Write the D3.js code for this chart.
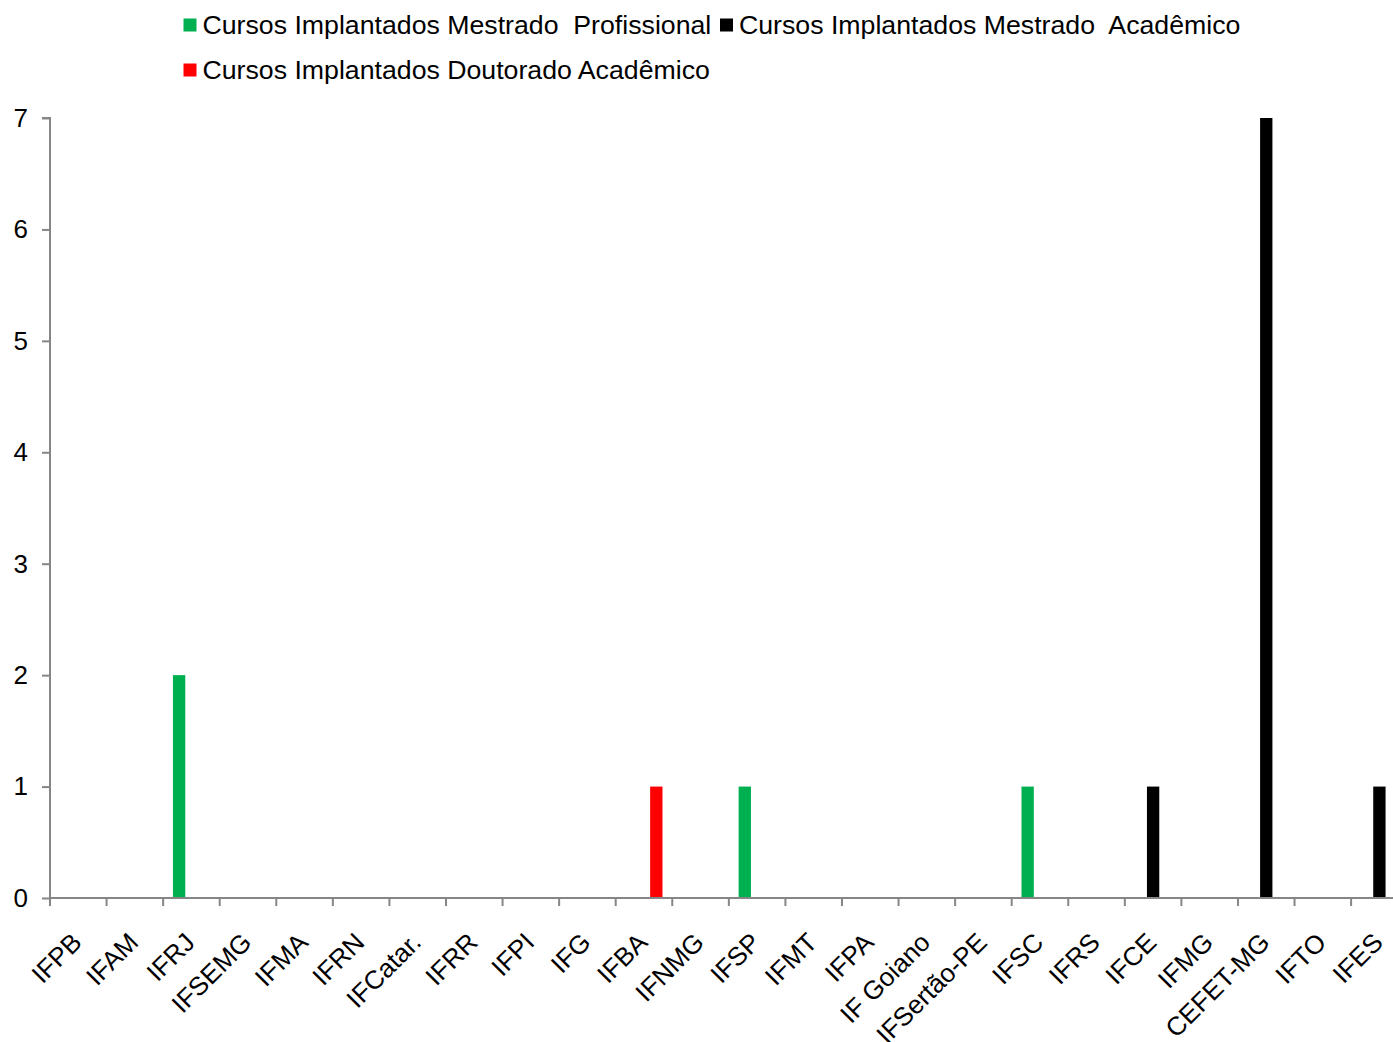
<!DOCTYPE html>
<html>
<head>
<meta charset="utf-8">
<script src="https://cdn.jsdelivr.net/npm/d3@7"></script>
<style>
  html, body { margin: 0; padding: 0; background: #fff; }
  svg { display: block; }
  text { font-family: "Liberation Sans", Arial, sans-serif; fill: #000; }
</style>
</head>
<body>
<svg id="chart" width="1393" height="1042"></svg>
<script>
const categories = ["IFPB", "IFAM", "IFRJ", "IFSEMG", "IFMA", "IFRN", "IFCatar.", "IFRR", "IFPI", "IFG",
  "IFBA", "IFNMG", "IFSP", "IFMT", "IFPA", "IF Goiano", "IFSertão-PE", "IFSC", "IFRS", "IFCE",
  "IFMG", "CEFET-MG", "IFTO", "IFES"];
const seriesNames = ["Cursos Implantados Mestrado  Profissional", "Cursos Implantados Mestrado  Acadêmico", "Cursos Implantados Doutorado Acadêmico"];
const seriesColors = ["#00b050", "#000000", "#ff0000"];
const mestradoProfissional = [0, 0, 2, 0, 0, 0, 0, 0, 0, 0, 0, 0, 1, 0, 0, 0, 0, 1, 0, 0, 0, 0, 0, 0];
const mestradoAcademico    = [0, 0, 0, 0, 0, 0, 0, 0, 0, 0, 0, 0, 0, 0, 0, 0, 0, 0, 0, 1, 0, 7, 0, 1];
const doutoradoAcademico   = [0, 0, 0, 0, 0, 0, 0, 0, 0, 0, 1, 0, 0, 0, 0, 0, 0, 0, 0, 0, 0, 0, 0, 0];
const yTicks = [0, 1, 2, 3, 4, 5, 6, 7];

const seriesValues = [mestradoProfissional, mestradoAcademico, doutoradoAcademico];

const svg = d3.select("#chart");
const mLeft = 50, mTop = 118, mBottom = 898;
const step = 56.57;
const mRight = mLeft + step * categories.length;

const x = d3.scaleBand().domain(categories).range([mLeft, mRight]).padding(0);
const xs = d3.scaleBand().domain(d3.range(3)).range([0, x.bandwidth()]).paddingInner(0).paddingOuter(0.794);
const y = d3.scaleLinear().domain([0, 7]).range([mBottom, mTop]);

const axisColor = "#868686";
const FS = 26;
const LFS = 26.7;

// bars
seriesValues.forEach((vals, si) => {
  svg.append("g").selectAll("rect")
    .data(categories.map((c, i) => ({c, v: vals[i]})).filter(d => d.v > 0))
    .join("rect")
    .attr("x", d => x(d.c) + xs(si))
    .attr("width", xs.bandwidth())
    .attr("y", d => y(d.v))
    .attr("height", d => y(0) - y(d.v))
    .attr("fill", seriesColors[si]);
});

// y axis
const yAxis = svg.append("g").attr("transform", `translate(${mLeft},0)`)
  .call(d3.axisLeft(y).tickValues(yTicks).tickSize(8).tickPadding(14).tickFormat(d3.format("d")));
yAxis.select(".domain").attr("stroke", axisColor).attr("stroke-width", 2).attr("d", `M-8,${mTop}H0V${mBottom}`);
yAxis.selectAll(".tick line").attr("stroke", axisColor).attr("stroke-width", 2);
yAxis.selectAll(".tick text").attr("font-size", FS).attr("font-family", "Liberation Sans, Arial, sans-serif").attr("fill", "#000");

// x axis
const xAxis = svg.append("g").attr("transform", `translate(0,${mBottom})`);
xAxis.append("line").attr("x1", mLeft).attr("x2", mRight).attr("y1", 0).attr("y2", 0)
  .attr("stroke", axisColor).attr("stroke-width", 2);
const edges = categories.map(c => x(c));
xAxis.selectAll("line.tk").data(edges).join("line").attr("class", "tk")
  .attr("x1", d => d).attr("x2", d => d).attr("y1", 0).attr("y2", 8)
  .attr("stroke", axisColor).attr("stroke-width", 2);
xAxis.selectAll("text").data(categories).join("text")
  .attr("transform", d => `translate(${x(d) + x.bandwidth() / 2 + 5},${46}) rotate(-45)`)
  .attr("text-anchor", "end")
  .attr("font-size", FS)
  .text(d => d);

// legend
const legendItems = [
  {name: seriesNames[0], color: seriesColors[0], x: 183.5, y: 18.5},
  {name: seriesNames[1], color: seriesColors[1], x: 720, y: 18.5},
  {name: seriesNames[2], color: seriesColors[2], x: 183.5, y: 63.5}
];
const lg = svg.append("g").selectAll("g").data(legendItems).join("g")
  .attr("transform", d => `translate(${d.x},${d.y})`);
lg.append("rect").attr("width", 13).attr("height", 13).attr("fill", d => d.color);
lg.append("text").attr("x", 19).attr("y", 15).attr("font-size", LFS)
  .style("white-space", "pre").attr("xml:space", "preserve")
  .text(d => d.name);
</script>
</body>
</html>
